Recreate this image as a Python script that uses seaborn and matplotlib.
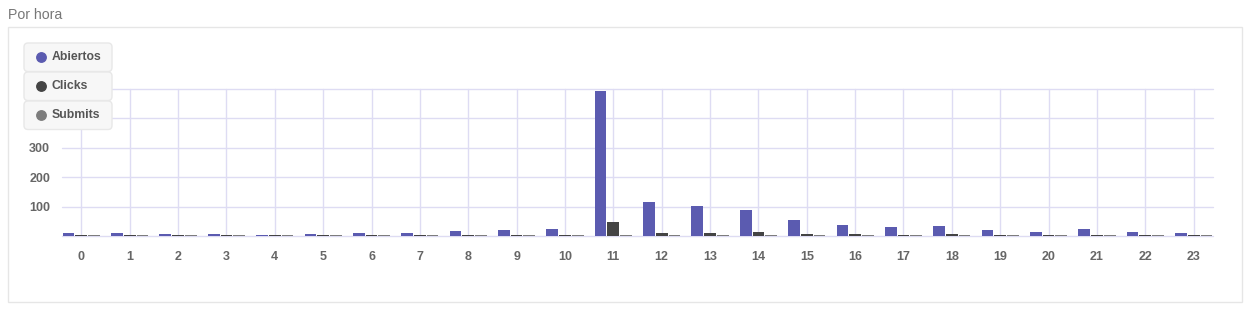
import numpy as np
import pandas as pd
import seaborn as sns
import matplotlib
matplotlib.use("Agg")
import matplotlib.pyplot as plt
from matplotlib.patches import FancyBboxPatch, Rectangle
from matplotlib.lines import Line2D
from matplotlib.transforms import Affine2D

# ---- data ----
hours = [str(h) for h in range(24)]
abiertos = [11, 11, 6, 7, 5, 6, 9, 10, 17, 19, 23, 492, 117, 103, 87, 56, 37, 29, 35, 20, 15, 25, 12, 11]
clicks = [5, 5, 5, 5, 5, 5, 5, 5, 5, 5, 5, 46, 11, 10, 12, 8, 6, 5, 6, 5, 5, 5, 5, 5]
submits = [4, 4, 4, 4, 4, 4, 4, 4, 4, 4, 4, 5, 4, 4, 4, 4, 4, 4, 4, 4, 4, 4, 4, 4]
series_names = ["Abiertos", "Clicks", "Submits"]
y_ticks = [0, 100, 200, 300, 400, 500]
y_ticklabels = ["", "100", "200", "300", "400", "500"]
title = "Por hora"

colors = {"Abiertos": "#5b5bb0", "Clicks": "#444444", "Submits": "#7d7d7d"}

df = pd.DataFrame({
    "hora": hours * 3,
    "valor": abiertos + clicks + submits,
    "serie": [series_names[0]] * 24 + [series_names[1]] * 24 + [series_names[2]] * 24,
})

W, H = 1258, 318
sns.set_style("white")
plt.rcParams["font.family"] = ["Liberation Sans", "DejaVu Sans"]

fig = plt.figure(figsize=(W / 100, H / 100), dpi=100)
tpx = Affine2D().scale(1 / W, -1 / H).translate(0, 1) + fig.transFigure

# axes area in pixels: left 62, right 1213, top 89, bottom 236
ax = fig.add_axes([62 / W, (H - 236) / H, (1213 - 62) / W, (236 - 89) / H])

sns.barplot(data=df, x="hora", y="valor", hue="serie", palette=colors,
            hue_order=series_names, order=hours, width=0.79, gap=0.08,
            saturation=1, legend=False, ax=ax, zorder=3, linewidth=0,
            edgecolor="none")

ax.set_xlim(-0.4, 23.4)
ax.set_ylim(0, 500)
ax.set_yticks(y_ticks)
ax.set_yticklabels(y_ticklabels)
ax.set_xlabel("")
ax.set_ylabel("")
for s in ax.spines.values():
    s.set_visible(False)
ax.set_axisbelow(True)
ax.grid(True, axis="both", color="#dedcf3", linewidth=1, clip_on=False)
ax.tick_params(axis="x", length=0, pad=11, labelsize=9, labelcolor="#666666")
ax.tick_params(axis="y", length=0, pad=8.5, labelsize=9, labelcolor="#666666")
for lab in ax.get_xticklabels() + ax.get_yticklabels():
    lab.set_fontweight("bold")

# outer panel
fig.add_artist(Rectangle((8, 27), 1234, 275, transform=tpx, fill=False,
                         edgecolor="#e6e6e6", linewidth=1, zorder=0))

# title
fig.text(8, 15, title, transform=tpx, va="center", ha="left",
         fontsize=10.2, color="#777777")

# legend boxes
box_tops = [43, 72, 101]
for name, top in zip(series_names, box_tops):
    box = FancyBboxPatch((24, top), 88, 28.5, transform=tpx,
                         boxstyle="round,pad=0,rounding_size=4",
                         facecolor="#f7f7f7", edgecolor="#e8e8e8",
                         linewidth=1, zorder=20)
    fig.add_artist(box)
    cy = top + 14
    fig.add_artist(Line2D([41], [cy], transform=tpx, marker="o",
                          markersize=6.8, color=colors[name],
                          linestyle="none", zorder=21))
    fig.text(52, cy, name, transform=tpx, va="center", ha="left",
             fontsize=8.8, fontweight="bold", color="#555555", zorder=22)

fig.savefig("out.png", dpi=100)
